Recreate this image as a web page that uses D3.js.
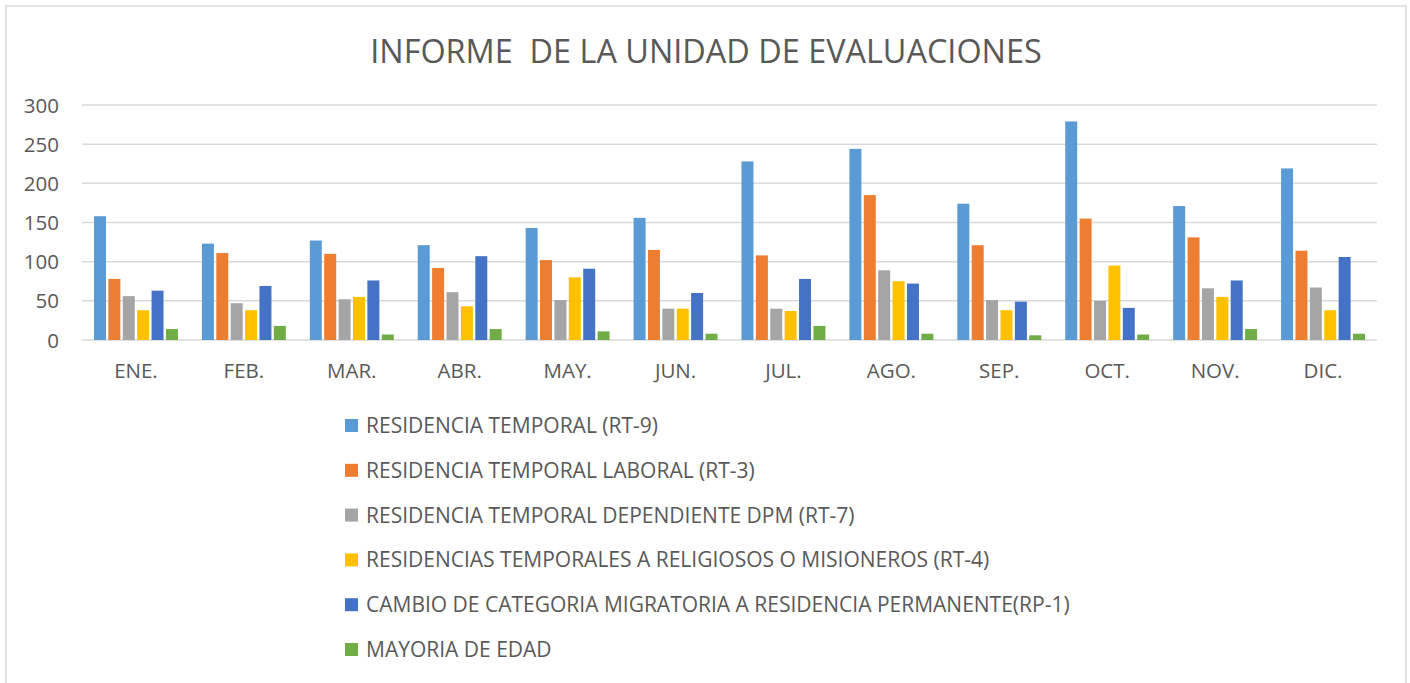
<!DOCTYPE html>
<html>
<head>
<meta charset="utf-8">
<script src="https://cdn.jsdelivr.net/npm/d3@7"></script>
<style>
  body { margin: 0; background: #fff; }
  text { font-family: "Open Sans", sans-serif; fill: #595959; }
</style>
</head>
<body>
<div id="chart"></div>
<script>
// DATA
var months = ["ENE.", "FEB.", "MAR.", "ABR.", "MAY.", "JUN.", "JUL.", "AGO.", "SEP.", "OCT.", "NOV.", "DIC."];
var seriesNames = [
    "RESIDENCIA TEMPORAL (RT-9)",
    "RESIDENCIA TEMPORAL LABORAL (RT-3)",
    "RESIDENCIA TEMPORAL DEPENDIENTE DPM (RT-7)",
    "RESIDENCIAS TEMPORALES A RELIGIOSOS O MISIONEROS (RT-4)",
    "CAMBIO DE CATEGORIA MIGRATORIA A RESIDENCIA PERMANENTE(RP-1)",
    "MAYORIA DE EDAD"
];
var rt9 = [158, 123, 127, 121, 143, 156, 228, 244, 174, 279, 171, 219];
var rt3 = [78, 111, 110, 92, 102, 115, 108, 185, 121, 155, 131, 114];
var rt7 = [56, 47, 52, 61, 51, 40, 40, 89, 51, 50, 66, 67];
var rt4 = [38, 38, 55, 43, 80, 40, 37, 75, 38, 95, 55, 38];
var rp1 = [63, 69, 76, 107, 91, 60, 78, 72, 49, 41, 76, 106];
var mayoria = [14, 18, 7, 14, 11, 8, 18, 8, 6, 7, 14, 8];
var yTicks = [0, 50, 100, 150, 200, 250, 300];

var colors = ["#5B9BD5", "#ED7D31", "#A5A5A5", "#FFC000", "#4472C4", "#70AD47"];
var allSeries = [rt9, rt3, rt7, rt4, rp1, mayoria];

var width = 1410, height = 683;
var plotLeft = 82, plotRight = 1377, plotTop = 105, plotBottom = 340;

var svg = d3.select("#chart").append("svg")
    .attr("width", width)
    .attr("height", height);

// chart frame
svg.append("rect")
    .attr("x", 6).attr("y", 6)
    .attr("width", 1400).attr("height", 700)
    .attr("fill", "none")
    .attr("stroke", "#D9D9D9")
    .attr("stroke-width", 1.5);

// title
svg.append("text")
    .attr("x", 706)
    .attr("y", 63)
    .attr("text-anchor", "middle")
    .attr("xml:space", "preserve")
    .style("font-size", "32.4px")
    .text("INFORME  DE LA UNIDAD DE EVALUACIONES");

var x0 = d3.scaleBand()
    .domain(months)
    .range([plotLeft, plotRight])
    .paddingInner(0.2)
    .paddingOuter(0.1);

var x1 = d3.scaleBand()
    .domain(d3.range(seriesNames.length))
    .range([0, x0.bandwidth()]);

var y = d3.scaleLinear()
    .domain([0, 300])
    .range([plotBottom, plotTop]);

// gridlines
svg.append("g")
    .selectAll("line")
    .data(yTicks)
    .enter().append("line")
    .attr("x1", plotLeft)
    .attr("x2", plotRight)
    .attr("y1", function(d) { return y(d); })
    .attr("y2", function(d) { return y(d); })
    .attr("stroke", "#D9D9D9")
    .attr("stroke-width", 1.5);

// y labels
svg.append("g")
    .selectAll("text")
    .data(yTicks)
    .enter().append("text")
    .attr("x", 59)
    .attr("y", function(d) { return y(d) + 7.5; })
    .attr("text-anchor", "end")
    .style("font-size", "20.5px")
    .text(function(d) { return d; });

// bars
var groups = svg.append("g")
    .selectAll("g")
    .data(months)
    .enter().append("g")
    .attr("transform", function(d) { return "translate(" + x0(d) + ",0)"; });

groups.selectAll("rect")
    .data(function(m, mi) {
        return allSeries.map(function(s, si) { return { si: si, v: s[mi] }; });
    })
    .enter().append("rect")
    .attr("x", function(d) { return x1(d.si) + 1.2; })
    .attr("width", x1.bandwidth() - 2.4)
    .attr("y", function(d) { return y(d.v); })
    .attr("height", function(d) { return y(0) - y(d.v); })
    .attr("fill", function(d) { return colors[d.si]; });

// x labels
svg.append("g")
    .selectAll("text")
    .data(months)
    .enter().append("text")
    .attr("x", function(d) { return x0(d) + x0.bandwidth() / 2; })
    .attr("y", 378)
    .attr("text-anchor", "middle")
    .style("font-size", "20.5px")
    .text(function(d) { return d; });

// legend
var legend = svg.append("g")
    .selectAll("g")
    .data(seriesNames)
    .enter().append("g")
    .attr("transform", function(d, i) { return "translate(345," + (419 + i * 44.8) + ")"; });

legend.append("rect")
    .attr("width", 13)
    .attr("height", 13)
    .attr("fill", function(d, i) { return colors[i]; });

legend.append("text")
    .attr("x", 21)
    .attr("y", 14)
    .style("font-size", "21px")
    .text(function(d) { return d; });
</script>
</body>
</html>
